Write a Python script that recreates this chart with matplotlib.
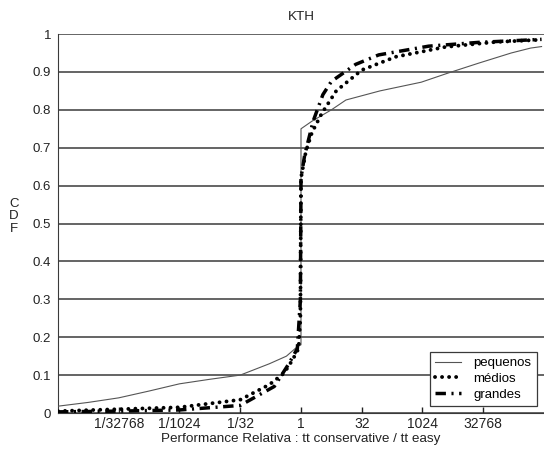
import matplotlib
matplotlib.use("Agg")
import matplotlib.pyplot as plt
import numpy as np

plt.rcParams['font.family'] = ['Liberation Sans', 'DejaVu Sans']

# exponents of 2 (x = 2**exp) and CDF values
peq_exp = [-20, -17.5, -15, -12.5, -10, -7.5, -5, -2.6, -1.2, -0.3, 0.0, 0.0, 0.9, 2.5, 3.7, 6.5, 9.9, 12.1, 14.6, 17.3, 18.9, 19.8]
peq_cdf = [0.018, 0.028, 0.04, 0.058, 0.077, 0.089, 0.10, 0.13, 0.15, 0.175, 0.18, 0.75, 0.77, 0.80, 0.826, 0.85, 0.873, 0.897, 0.923, 0.95, 0.963, 0.967]

med_exp = [-20, -15, -10, -5, -2.6, -1.4, -0.7, -0.2, -0.05, 0.0, 0.4, 0.9, 1.7, 2.9, 5.0, 7.8, 11.9, 16.0, 19.8]
med_cdf = [0.005, 0.01, 0.015, 0.035, 0.075, 0.105, 0.14, 0.17, 0.25, 0.62, 0.69, 0.74, 0.79, 0.85, 0.905, 0.94, 0.966, 0.979, 0.985]

gra_exp = [-20, -15, -10, -5, -2.2, -1.0, -0.3, -0.05, 0.0, 0.3, 1.0, 1.8, 2.5, 4.5, 6.4, 10.5, 14.6, 19.8]
gra_cdf = [0.003, 0.005, 0.008, 0.02, 0.07, 0.13, 0.17, 0.3, 0.62, 0.68, 0.77, 0.84, 0.875, 0.92, 0.945, 0.968, 0.978, 0.986]

xtick_exp = [-15, -10, -5, 0, 5, 10, 15]
xtick_labels = ['1/32768', '1/1024', '1/32', '1', '32', '1024', '32768']
ytick_vals = [0, 0.1, 0.2, 0.3, 0.4, 0.5, 0.6, 0.7, 0.8, 0.9, 1]
ytick_labels = ['0', '0.1', '0.2', '0.3', '0.4', '0.5', '0.6', '0.7', '0.8', '0.9', '1']

fig = plt.figure(figsize=(5.44, 4.54), dpi=100)
ax = fig.add_axes([0.1066, 0.0903, 0.8934, 0.8347])

for yv in ytick_vals:
    ax.axhline(yv, color='#3a3a3a', lw=1.1, zorder=1)

ax.plot(2.0 ** np.array(peq_exp), peq_cdf, color='#555555', lw=0.8, label='pequenos', zorder=3)
ax.plot(2.0 ** np.array(med_exp), med_cdf, color='black', lw=2.8, linestyle=(0, (0.01, 1.8)),
        dash_capstyle='round', label='médios', zorder=4)
ax.plot(2.0 ** np.array(gra_exp), gra_cdf, color='black', lw=2.5, linestyle=(0, (3, 1.6, 0.6, 1.6)),
        label='grandes', zorder=5)

ax.set_xscale('log', base=2)
ax.set_xlim(2.0 ** -20, 2.0 ** 20)
ax.set_ylim(0, 1)
ax.set_xticks(2.0 ** np.array(xtick_exp))
ax.set_xticklabels(xtick_labels)
ax.minorticks_off()
ax.set_yticks(ytick_vals)
ax.set_yticklabels(ytick_labels)
ax.tick_params(axis='x', direction='in', length=4, width=1, labelsize=10, pad=3, colors='#222222')
ax.tick_params(axis='y', length=0, labelsize=9.5, pad=5, colors='#222222')

for s in ['top', 'right']:
    ax.spines[s].set_visible(False)
ax.spines['left'].set_color('#3a3a3a')
ax.spines['bottom'].set_color('#3a3a3a')

ax.set_title('KTH', fontsize=9.7, pad=10, color='#222222')
ax.set_xlabel('Performance Relativa : tt conservative / tt easy', fontsize=9.7, labelpad=1, color='#222222')
fig.text(0.026, 0.524, 'C\nD\nF', ha='center', va='center', fontsize=9.5, linespacing=1.05, color='#222222')

leg = ax.legend(loc='lower right', bbox_to_anchor=(0.99, 0.012), fontsize=9.5, frameon=True, fancybox=False,
                edgecolor='#3a3a3a', framealpha=1, handlelength=2.0, borderpad=0.4, labelspacing=0.25,
                handletextpad=0.9, borderaxespad=0.2)
leg.get_frame().set_linewidth(0.9)

fig.savefig('out.png', dpi=100)
